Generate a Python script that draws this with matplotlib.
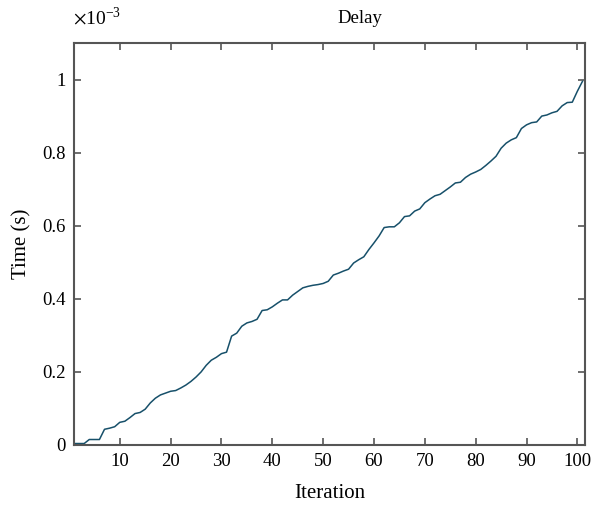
import numpy as np
import matplotlib
matplotlib.use("Agg")
import matplotlib.pyplot as plt

# delay per iteration, in units of 1e-3 s
iteration = np.arange(1, 102)
delay_ms = [
    0.004, 0.004, 0.004, 0.015, 0.015, 0.015, 0.043, 0.046, 0.050, 0.062,
    0.065, 0.075, 0.086, 0.089, 0.098, 0.115, 0.128, 0.137, 0.142, 0.147,
    0.149, 0.156, 0.164, 0.174, 0.186, 0.200, 0.218, 0.232, 0.240, 0.250,
    0.254, 0.298, 0.306, 0.325, 0.334, 0.338, 0.344, 0.368, 0.370, 0.378,
    0.388, 0.397, 0.397, 0.410, 0.420, 0.430, 0.434, 0.437, 0.439, 0.442,
    0.448, 0.465, 0.470, 0.476, 0.481, 0.498, 0.507, 0.515, 0.535, 0.553,
    0.572, 0.595, 0.597, 0.597, 0.608, 0.625, 0.627, 0.640, 0.646, 0.663,
    0.673, 0.682, 0.686, 0.696, 0.706, 0.717, 0.719, 0.732, 0.741, 0.747,
    0.754, 0.765, 0.777, 0.790, 0.812, 0.826, 0.835, 0.841, 0.866, 0.876,
    0.882, 0.884, 0.900, 0.903, 0.909, 0.913, 0.928, 0.937, 0.938, 0.968,
    0.995,
]
xticks = [10, 20, 30, 40, 50, 60, 70, 80, 90, 100]
yticks = [0, 0.2, 0.4, 0.6, 0.8, 1.0]
ytick_labels = ["0", "0.2", "0.4", "0.6", "0.8", "1"]

plt.rcParams['font.family'] = ['Liberation Serif', 'DejaVu Serif']
plt.rcParams['mathtext.fontset'] = 'stix'

fig = plt.figure(figsize=(5.93, 5.07), dpi=100)
ax = fig.add_axes([0.1248, 0.1223, 0.8617, 0.7929])

ax.plot(iteration, delay_ms, color="#17506a", lw=1.1)

ax.set_xlim(1, 101.5)
ax.set_ylim(0, 1.1)
ax.set_xticks(xticks)
ax.set_yticks(yticks)
ax.set_yticklabels(ytick_labels)
ax.tick_params(direction="in", top=True, right=True, length=5, width=1.2,
               color="#555555", labelsize=13.5, pad=6)
for s in ax.spines.values():
    s.set_color("#555555")
    s.set_linewidth(1.5)

# title sits right of the axes centre in the original
fig.text(0.607, 0.963, "Delay", fontsize=13.5, ha="center", va="center")
ax.set_xlabel("Iteration", fontsize=15, labelpad=10)
ax.set_ylabel("Time (s)", fontsize=15, labelpad=8)
fig.text(0.1235, 0.965, r"$\times$10$^{\mathregular{-3}}$", fontsize=14, va="center", ha="left")

fig.savefig("out.png", dpi=100)
